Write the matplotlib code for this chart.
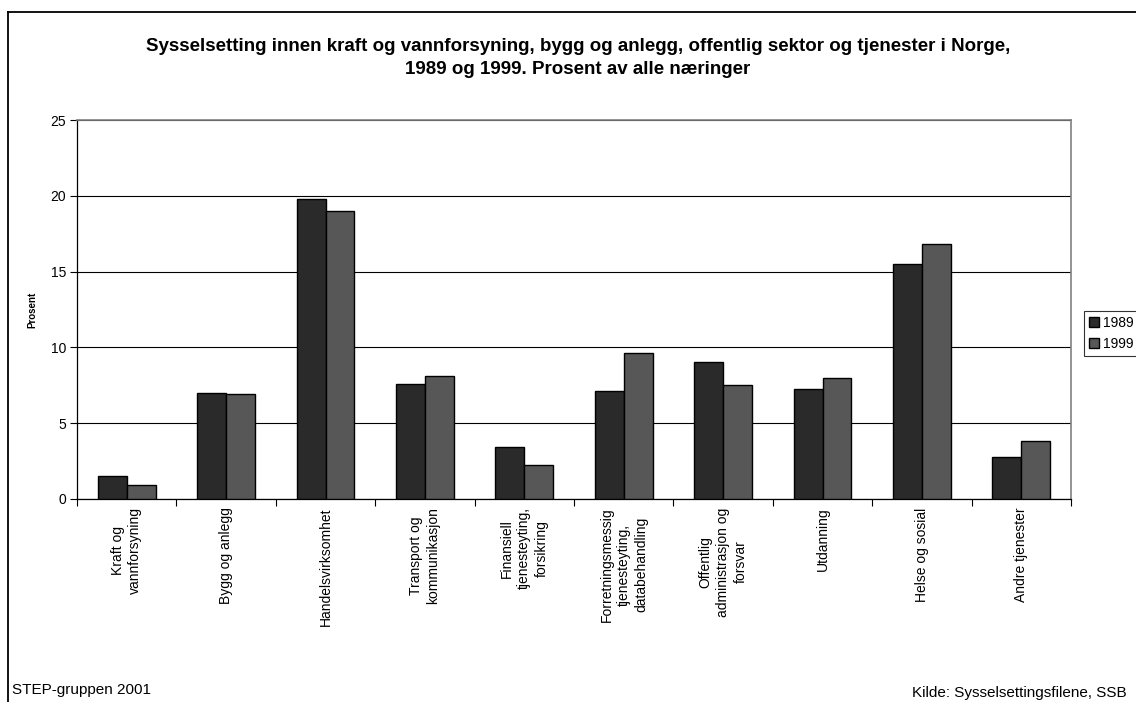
import matplotlib
matplotlib.use("Agg")
import matplotlib.pyplot as plt
import numpy as np
from matplotlib.lines import Line2D

plt.rcParams['font.family'] = ['Liberation Sans', 'DejaVu Sans']

categories = [
    "Kraft og\nvannforsyning",
    "Bygg og anlegg",
    "Handelsvirksomhet",
    "Transport og\nkommunikasjon",
    "Finansiell\ntjenesteyting,\nforsikring",
    "Forretningsmessig\ntjenesteyting,\ndatabehandling",
    "Offentlig\nadministrasjon og\nforsvar",
    "Utdanning",
    "Helse og sosial",
    "Andre tjenester",
]
series_names = ["1989", "1999"]
values_1989 = [1.5, 7.0, 19.8, 7.6, 3.45, 7.1, 9.05, 7.25, 15.5, 2.8]
values_1999 = [0.9, 6.9, 19.0, 8.1, 2.25, 9.6, 7.5, 7.95, 16.85, 3.8]
yticks = [0, 5, 10, 15, 20, 25]

title = ("Sysselsetting innen kraft og vannforsyning, bygg og anlegg, offentlig sektor og tjenester i Norge,\n"
         "1989 og 1999. Prosent av alle næringer")

W, H = 1136, 702
fig = plt.figure(figsize=(W / 100, H / 100), dpi=100)
fig.patch.set_facecolor("white")

ax = fig.add_axes([77 / W, 1 - 499 / H, (1071 - 77) / W, (499 - 120) / H])

x = np.arange(len(categories))
bw = 0.29
c1989 = "#2a2a2a"
c1999 = "#575757"
ax.bar(x - bw / 2, values_1989, width=bw, color=c1989, edgecolor="black", linewidth=1.0,
       label=series_names[0], zorder=3)
ax.bar(x + bw / 2, values_1999, width=bw, color=c1999, edgecolor="black", linewidth=1.0,
       label=series_names[1], zorder=3)

ax.set_xlim(-0.5, len(categories) - 0.5)
ax.set_ylim(0, 25)
ax.set_yticks(yticks)
ax.set_yticklabels([str(v) for v in yticks], fontsize=10)
ax.yaxis.grid(True, color="black", linewidth=0.8, zorder=0)
ax.set_axisbelow(True)

ax.set_xticks(x)
ax.set_xticklabels(categories, rotation=90, ha="center", va="top",
                   multialignment="center", fontsize=10, linespacing=1.3)
ax.set_xticks(np.arange(-0.5, len(categories), 1.0), minor=True)
ax.tick_params(axis="x", which="major", length=0, pad=6)
ax.tick_params(axis="x", which="minor", length=5, width=0.8, direction="out")
ax.tick_params(axis="y", length=5, width=0.8, direction="out", pad=3)

for s in ["left", "bottom"]:
    ax.spines[s].set_color("black")
    ax.spines[s].set_linewidth(0.9)
for s in ["top", "right"]:
    ax.spines[s].set_color("#808080")
    ax.spines[s].set_linewidth(1.2)

ax.set_ylabel("Prosent", fontsize=7, fontweight="bold")
ax.yaxis.set_label_coords((37 - 77) / (1071 - 77), 0.5)

fig.text(578 / W, 1 - 58 / H, title, ha="center", va="center", fontsize=13.5,
         fontweight="bold", linespacing=1.5)

leg = ax.legend(loc="upper left", bbox_to_anchor=(1084 / W, 1 - 311 / H),
                bbox_transform=fig.transFigure, fontsize=10, frameon=True,
                fancybox=False, shadow=False, handlelength=0.7, handleheight=0.7,
                handletextpad=0.3, borderpad=0.35, labelspacing=0.5, borderaxespad=0)
leg.get_frame().set_edgecolor("black")
leg.get_frame().set_linewidth(0.8)

fig.text(12 / W, 1 - 690 / H, "STEP-gruppen 2001", ha="left", va="center", fontsize=11)
fig.text(912 / W, 1 - 693 / H, "Kilde: Sysselsettingsfilene, SSB", ha="left", va="center", fontsize=11)

fig.add_artist(Line2D([8 / W, 1.0], [1 - 11.5 / H, 1 - 11.5 / H], transform=fig.transFigure,
                      color="black", linewidth=1.3))
fig.add_artist(Line2D([8 / W, 8 / W], [1 - 11.5 / H, 0.0], transform=fig.transFigure,
                      color="black", linewidth=1.3))

fig.savefig("out.png", dpi=100)
